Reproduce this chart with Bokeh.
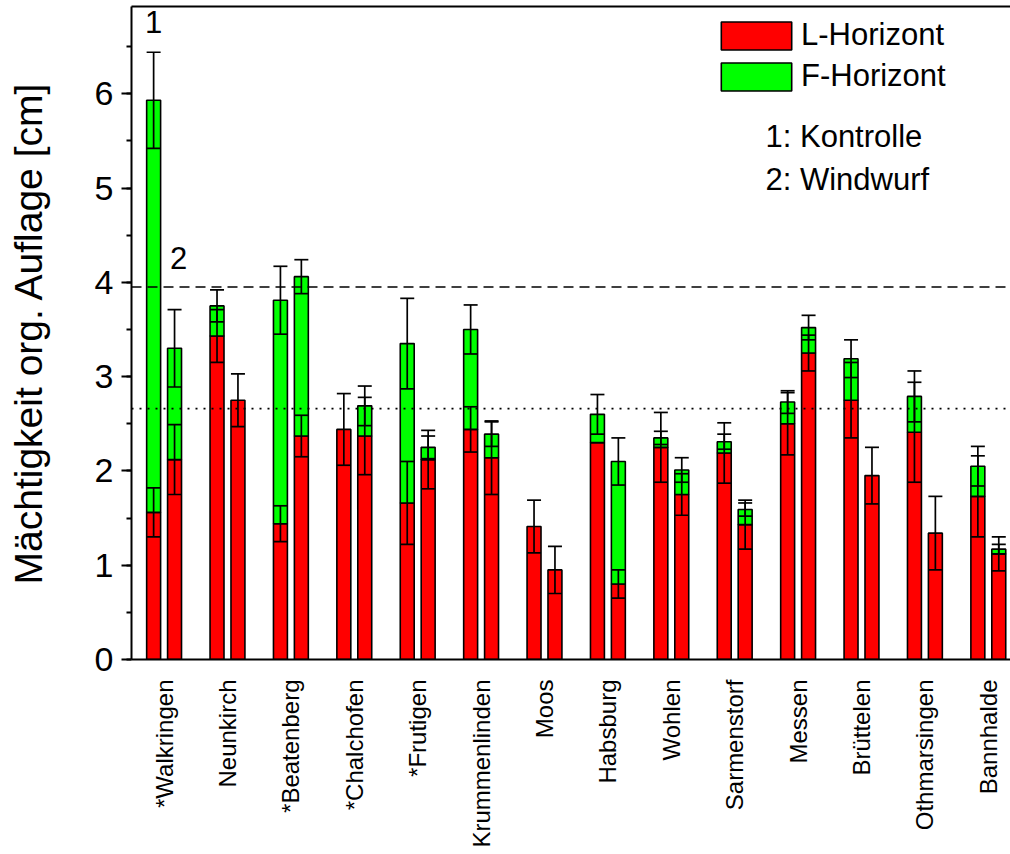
import math

from bokeh.embed import file_html
from bokeh.models import (ColumnDataSource, FixedTicker, Label, Legend, LegendItem,
                          LinearAxis, Range1d, SingleIntervalTicker, Span, TeeHead, Whisker)
from bokeh.plotting import figure
from bokeh.resources import INLINE

# ---------------------------------------------------------------- data
sites = ["*Walkringen", "Neunkirch", "*Beatenberg", "*Chalchofen", "*Frutigen",
         "Krummenlinden", "Moos", "Habsburg", "Wohlen", "Sarmenstorf", "Messen",
         "Brüttelen", "Othmarsingen", "Bannhalde"]

# 1: Kontrolle -- L-Horizont thickness, F-Horizont thickness (cm) and errors
kontrolle_L = [1.56, 3.43, 1.44, 2.44, 1.66, 2.44, 1.41, 2.30, 2.25, 2.19, 2.50, 2.75, 2.41, 1.73]
kontrolle_L_err = [0.26, 0.28, 0.19, 0.38, 0.44, 0.24, 0.28, 0.0, 0.37, 0.32, 0.33, 0.40, 0.53, 0.43]
kontrolle_F = [4.37, 0.32, 2.37, 0.0, 1.69, 1.06, 0.0, 0.30, 0.10, 0.12, 0.23, 0.44, 0.38, 0.32]
kontrolle_F_err = [0.51, 0.17, 0.36, 0.0, 0.48, 0.26, 0.0, 0.21, 0.07, 0.08, 0.12, 0.20, 0.27, 0.21]

# 2: Windwurf
windwurf_L = [2.12, 2.75, 2.37, 2.37, 2.12, 2.14, 0.95, 0.80, 1.75, 1.43, 3.25, 1.95, 1.34, 1.12]
windwurf_L_err = [0.37, 0.28, 0.22, 0.41, 0.31, 0.39, 0.25, 0.15, 0.22, 0.26, 0.19, 0.30, 0.39, 0.18]
windwurf_F = [1.18, 0.0, 1.69, 0.32, 0.13, 0.25, 0.0, 1.30, 0.26, 0.16, 0.27, 0.0, 0.0, 0.05]
windwurf_F_err = [0.41, 0.0, 0.18, 0.21, 0.12, 0.13, 0.0, 0.25, 0.13, 0.07, 0.13, 0.0, 0.0, 0.05]

# horizontal reference levels (cm)
ref_dashed = 3.95
ref_dotted = 2.66

# ---------------------------------------------------------------- style
RED = "#FF0000"
GREEN = "#00FF00"
FONT = "Liberation Sans"
INK = "black"
BAR_W = 0.22
OFFSET = 0.165


def build_sources(L, L_err, F, F_err, offset):
    red = dict(x=[], top=[])
    green = dict(x=[], bottom=[], top=[])
    red_e = dict(x=[], lower=[], upper=[])
    green_e = dict(x=[], lower=[], upper=[])
    for i in range(len(sites)):
        x = i + offset
        red["x"].append(x)
        red["top"].append(L[i])
        if L_err[i] > 0:
            red_e["x"].append(x)
            red_e["lower"].append(L[i] - L_err[i])
            red_e["upper"].append(L[i] + L_err[i])
        if F[i] > 0:
            total = L[i] + F[i]
            green["x"].append(x)
            green["bottom"].append(L[i])
            green["top"].append(total)
            if F_err[i] > 0:
                green_e["x"].append(x)
                green_e["lower"].append(total - F_err[i])
                green_e["upper"].append(total + F_err[i])
    return [ColumnDataSource(d) for d in (red, green, red_e, green_e)]


p = figure(width=1010, height=854, output_backend="svg", toolbar_location=None,
           x_range=Range1d(-0.514, 13.35), y_range=Range1d(0, 6.925),
           min_border_left=131, min_border_right=0, min_border_top=6,
           min_border_bottom=195, outline_line_color=None,
           background_fill_color="white", border_fill_color="white")
p.xgrid.visible = False
p.ygrid.visible = False

red_renderers = []
green_renderers = []
whisker_sources = []
for L, Le, F, Fe, off in ((kontrolle_L, kontrolle_L_err, kontrolle_F, kontrolle_F_err, -OFFSET),
                          (windwurf_L, windwurf_L_err, windwurf_F, windwurf_F_err, OFFSET)):
    red_src, green_src, red_e, green_e = build_sources(L, Le, F, Fe, off)
    r = p.vbar(x="x", top="top", bottom=0, width=BAR_W, source=red_src,
               fill_color=RED, line_color=INK, line_width=1.6)
    g = p.vbar(x="x", top="top", bottom="bottom", width=BAR_W, source=green_src,
               fill_color=GREEN, line_color=INK, line_width=1.6)
    red_renderers.append(r)
    green_renderers.append(g)
    whisker_sources += [red_e, green_e]

for src in whisker_sources:
    w = Whisker(source=src, base="x", lower="lower", upper="upper",
                line_color=INK, line_width=1.7, level="annotation",
                upper_head=TeeHead(size=14, line_color=INK, line_width=1.7),
                lower_head=TeeHead(size=14, line_color=INK, line_width=1.7))
    p.add_layout(w)

# reference levels
p.add_layout(Span(location=ref_dashed, dimension="width", line_color=INK,
                  line_width=1.6, line_dash="10 6"))
p.add_layout(Span(location=ref_dotted, dimension="width", line_color=INK,
                  line_width=1.6, line_dash="2 6"))

# ---------------------------------------------------------------- axes
yax = p.yaxis[0]
yax.ticker = SingleIntervalTicker(interval=1, num_minor_ticks=2)
yax.axis_label = "Mächtigkeit org. Auflage [cm]"
yax.axis_label_text_font = FONT
yax.axis_label_text_font_style = "normal"
yax.axis_label_text_font_size = "39px"
yax.axis_label_text_color = INK
yax.axis_label_standoff = 42
yax.major_label_text_font = FONT
yax.major_label_text_font_size = "34px"
yax.major_label_text_color = INK
yax.major_label_standoff = 8
yax.major_tick_out = 10
yax.major_tick_in = 0
yax.minor_tick_out = 5
yax.minor_tick_in = 0
yax.axis_line_width = 2
yax.major_tick_line_width = 2
yax.minor_tick_line_width = 2

xax = p.xaxis[0]
xax.ticker = FixedTicker(ticks=list(range(len(sites))))
xax.major_label_overrides = {i: s for i, s in enumerate(sites)}
xax.major_label_orientation = math.pi / 2
xax.major_label_text_font = FONT
xax.major_label_text_font_size = "24px"
xax.major_label_text_color = INK
xax.major_label_standoff = 20
xax.major_tick_out = 0
xax.major_tick_in = 0
xax.minor_tick_out = 0
xax.minor_tick_in = 0
xax.axis_line_width = 2

top_axis = LinearAxis(ticker=FixedTicker(ticks=[]), axis_line_width=2,
                      major_tick_out=0, major_tick_in=0, minor_tick_out=0, minor_tick_in=0)
p.add_layout(top_axis, "above")

# ---------------------------------------------------------------- legend & notes
legend = Legend(items=[LegendItem(label="L-Horizont", renderers=[red_renderers[0]]),
                       LegendItem(label="F-Horizont", renderers=[green_renderers[0]])],
                location=(581, 565), orientation="vertical",
                glyph_width=88, glyph_height=35, label_height=35, label_standoff=1,
                spacing=5, padding=0, margin=0,
                label_text_font=FONT, label_text_font_size="31px",
                label_text_color=INK,
                border_line_color=None, background_fill_alpha=0)
p.add_layout(legend)

for txt, sy in (("1: Kontrolle", 523), ("2: Windwurf", 480)):
    p.add_layout(Label(x=634, y=sy, x_units="screen", y_units="screen", text=txt,
                       text_font=FONT, text_font_size="31px", text_color=INK,
                       text_baseline="alphabetic"))

p.add_layout(Label(x=-OFFSET, y=6.76, text="1", text_font=FONT, text_font_size="31px",
                   text_color=INK, text_align="center", text_baseline="alphabetic"))
p.add_layout(Label(x=0.23, y=4.26, text="2", text_font=FONT, text_font_size="31px",
                   text_color=INK, text_align="center", text_baseline="alphabetic"))

open("out.html", "w").write(file_html(p, INLINE))
